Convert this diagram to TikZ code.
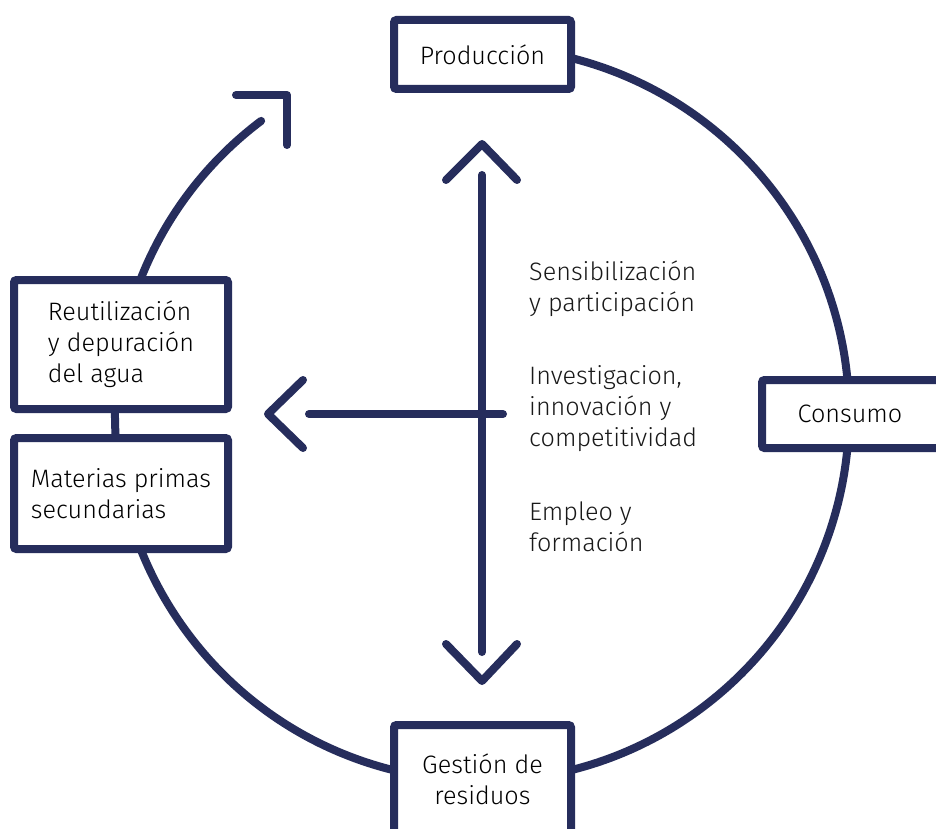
\documentclass[tikz,border=0pt]{standalone}
\usepackage{fontspec}
\setmainfont{Fira Sans}[UprightFont={* Light}]
\definecolor{navy}{HTML}{262D5C}
\begin{document}
\begin{tikzpicture}[x=1pt,y=-1pt,
  line/.style={draw=navy,line width=8pt,line cap=round,line join=round},
  box/.style={draw=navy,line width=8pt,fill=white,rounded corners=2.5pt,inner sep=0pt,
    font=\fontsize{25.2}{31}\selectfont},
  lbl/.style={anchor=west,align=left,inner sep=0pt,font=\fontsize{25.2}{31}\selectfont,text=black!90}]
\useasboundingbox[fill=white] (0,0) rectangle (936,829);
\coordinate (c) at (482,414);
% circle
\draw[line] (c) ++(127:367pt) coordinate (arcend) arc[start angle=127,end angle=460,radius=367pt];
% arrow head of the circle
\coordinate (h1) at (236,95);
\coordinate (h2) at (287,95);
\coordinate (h3) at (287,145);
\draw[line] (h1) -- (h2) -- (h3);
% boxes
\node[box,minimum width=177pt,minimum height=69pt] (prod) at (482.5,54.5) {Producción};
\node[box,minimum width=200pt,minimum height=68pt] (cons) at (862,414) {Consumo\hspace*{24pt}};
\node[box,minimum width=177pt,minimum height=108pt,align=center] (gest) at (482.5,779) {Gestión de\\residuos};
\node[box,minimum width=214pt,minimum height=129pt,align=left] (reut) at (121,344.5) {Reutilización\\y depuración\\del agua};
\node[box,minimum width=214pt,minimum height=111pt,align=left] (mat) at (121,493.5) {Materias primas\\secundarias};
% central arrows
\coordinate (vt) at (482,175);
\coordinate (vb) at (482,652);
\draw[line] (vt) -- (vb);
\coordinate (ut) at (482,144);
\draw[line] (446,180) -- (ut) -- (517,180);
\coordinate (dt) at (482,681);
\draw[line] (446,644) -- (dt) -- (517,644);
\coordinate (hl) at (309,414);
\coordinate (hr) at (503,414);
\draw[line] (hr) -- (hl);
\coordinate (lt) at (268,414);
\draw[line] (303,380) -- (lt) -- (303,448);
% labels
\node[lbl] (t1) at (529,288.5) {Sensibilización\\y participación};
\node[lbl] (t2) at (529,409) {Investigacion,\\innovación y\\competitividad};
\node[lbl] (t3) at (529,527) {Empleo y\\formación};
\end{tikzpicture}
\end{document}
